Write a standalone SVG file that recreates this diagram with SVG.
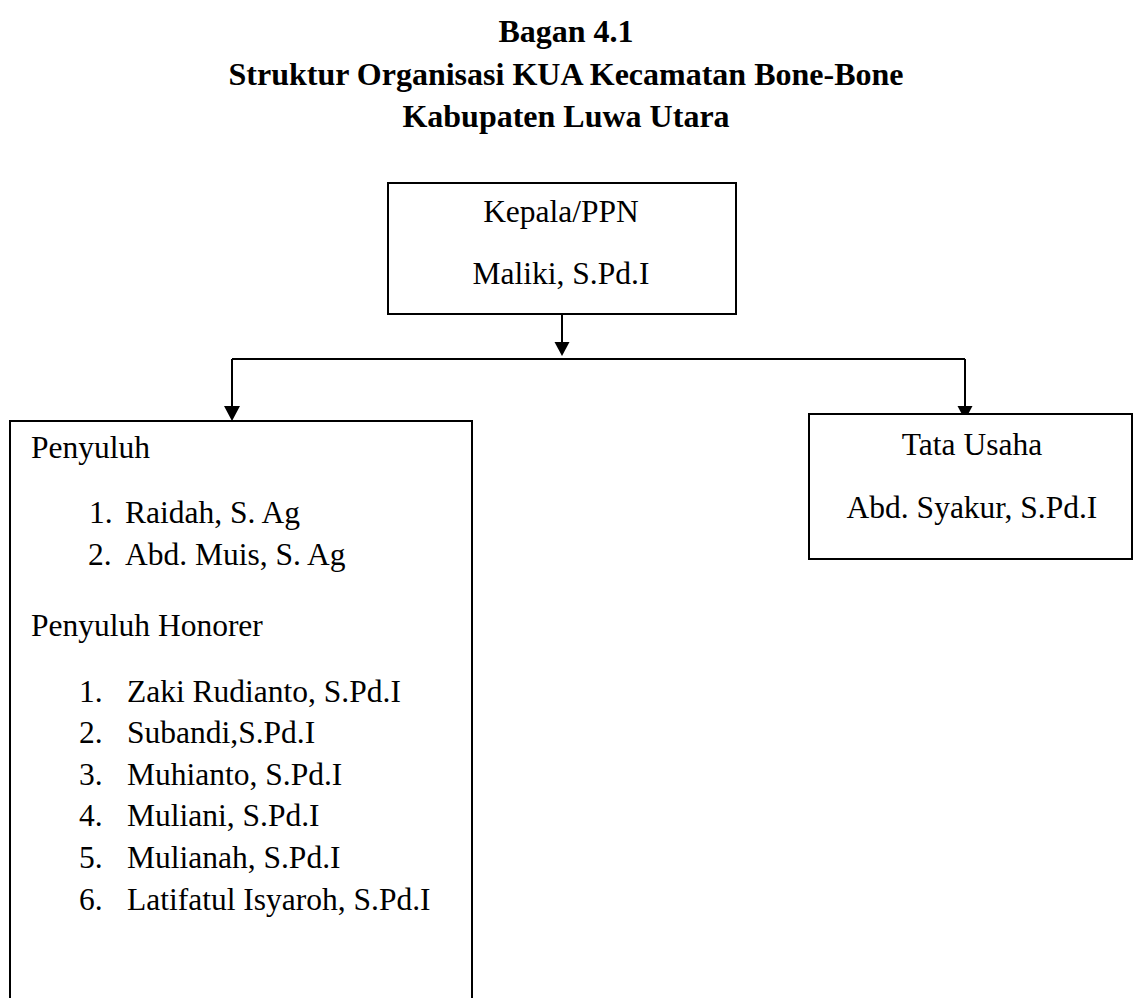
<svg xmlns="http://www.w3.org/2000/svg" width="1133" height="998" viewBox="0 0 1133 998">
<style>
.t{font-family:"Liberation Serif","Times New Roman",serif;font-size:31.5px;fill:#000}
.h{font-family:"Liberation Serif","Times New Roman",serif;font-size:32px;font-weight:bold;fill:#000}
.c{text-anchor:middle}
.box{fill:#fff;stroke:#000;stroke-width:2}
.ln{fill:none;stroke:#000;stroke-width:2}
.ah{fill:#000}
</style>
<rect width="1133" height="998" fill="#fff"/>
<g id="title">
<text class="h c" x="566" y="42">Bagan 4.1</text>
<text class="h c" x="566" y="85">Struktur Organisasi KUA Kecamatan Bone-Bone</text>
<text class="h c" x="566" y="127">Kabupaten Luwa Utara</text>
</g>
<g id="connectors">
<line class="ln" x1="562" y1="314" x2="562" y2="343"/>
<polygon class="ah" points="554.5,342 569.5,342 562,356"/>
<line class="ln" x1="232" y1="359" x2="965" y2="359"/>
<line class="ln" x1="232" y1="359" x2="232" y2="407"/>
<polygon class="ah" points="224,406 240,406 232,421"/>
<line class="ln" x1="965" y1="359" x2="965" y2="407"/>
<polygon class="ah" points="957.5,406 972.5,406 965,420"/>
</g>
<g id="node-kepala">
<rect class="box" x="388" y="183" width="348" height="131"/>
<text class="t c" x="561" y="222">Kepala/PPN</text>
<text class="t c" x="561" y="284">Maliki, S.Pd.I</text>
</g>
<g id="node-penyuluh">
<rect class="box" x="10" y="421" width="462" height="600"/>
<text class="t" x="31" y="458">Penyuluh</text>
<text class="t" x="89" y="523">1.</text><text class="t" x="125" y="523">Raidah, S. Ag</text>
<text class="t" x="88" y="565">2.</text><text class="t" x="125" y="565">Abd. Muis, S. Ag</text>
<text class="t" x="31" y="636">Penyuluh Honorer</text>
<text class="t" x="79" y="702">1.</text><text class="t" x="127" y="702">Zaki Rudianto, S.Pd.I</text>
<text class="t" x="79" y="743">2.</text><text class="t" x="127" y="743">Subandi,S.Pd.I</text>
<text class="t" x="79" y="785">3.</text><text class="t" x="127" y="785">Muhianto, S.Pd.I</text>
<text class="t" x="79" y="826">4.</text><text class="t" x="127" y="826">Muliani, S.Pd.I</text>
<text class="t" x="79" y="868">5.</text><text class="t" x="127" y="868">Mulianah, S.Pd.I</text>
<text class="t" x="79" y="910">6.</text><text class="t" x="127" y="910">Latifatul Isyaroh, S.Pd.I</text>
</g>
<g id="node-tatausaha">
<rect class="box" x="809" y="414" width="323" height="145"/>
<text class="t c" x="972" y="455">Tata Usaha</text>
<text class="t c" x="972" y="518">Abd. Syakur, S.Pd.I</text>
</g>
</svg>
